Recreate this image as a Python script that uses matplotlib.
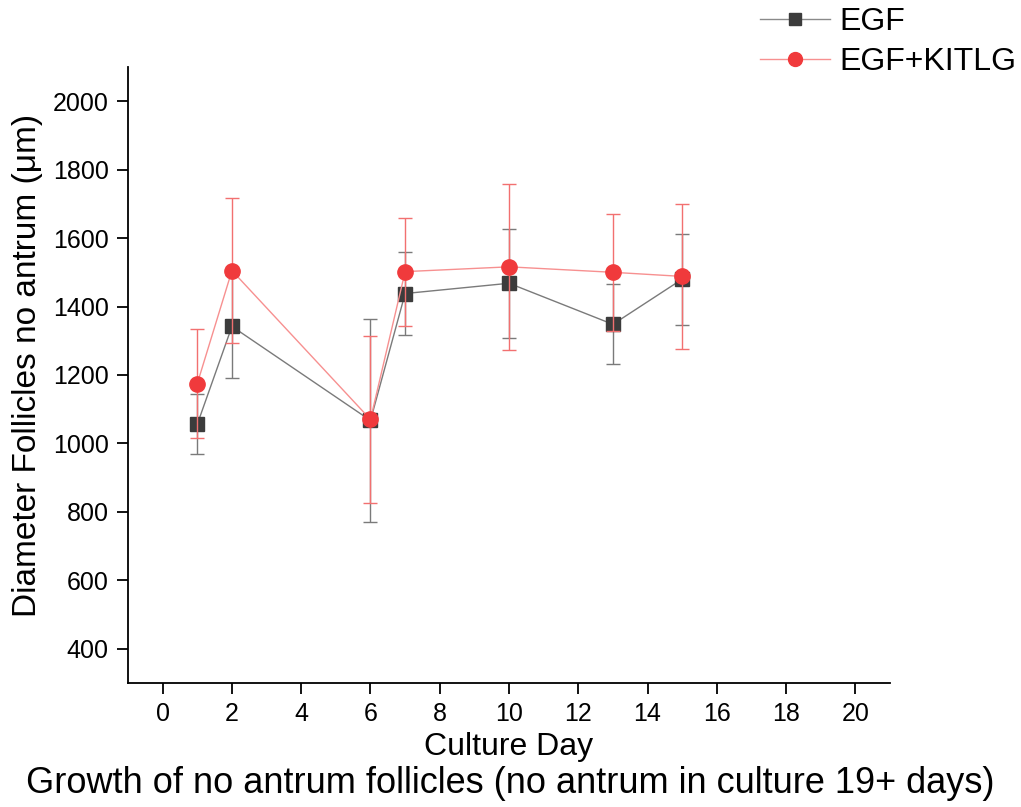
import matplotlib
matplotlib.use('Agg')
import matplotlib.pyplot as plt

plt.rcParams['font.family'] = ['Liberation Sans', 'DejaVu Sans']

# culture days
days = [1, 2, 6, 7, 10, 13, 15]

# EGF group: mean diameter and error
egf_mean = [1056, 1342, 1067, 1438, 1468, 1348, 1480]
egf_err = [88, 150, 297, 120, 159, 117, 133]

# EGF+KITLG group
kit_mean = [1175, 1505, 1070, 1502, 1516, 1500, 1488]
kit_err = [158, 211, 243, 158, 242, 171, 211]

x_ticks = [0, 2, 4, 6, 8, 10, 12, 14, 16, 18, 20]
y_ticks = [400, 600, 800, 1000, 1200, 1400, 1600, 1800, 2000]

W, H = 1021, 807
fig = plt.figure(figsize=(W / 100, H / 100), dpi=100)
ax = fig.add_axes([0.1254, 0.1537, 0.7463, 0.7633])

ax.errorbar(days, egf_mean, yerr=egf_err, fmt='none', ecolor='#7a7a7a',
            elinewidth=1, capsize=5, capthick=1, zorder=2)
ax.plot(days, egf_mean, '-', color='#7a7a7a', lw=1, zorder=3)
ax.plot(days, egf_mean, 's', color='#3c3c3c', ms=10, zorder=4)

ax.errorbar(days, kit_mean, yerr=kit_err, fmt='none', ecolor='#f27070',
            elinewidth=1, capsize=5, capthick=1, zorder=5)
ax.plot(days, kit_mean, '-', color='#f79090', lw=1, zorder=6)
ax.plot(days, kit_mean, 'o', color='#f03a3c', ms=11, zorder=7)

# legend handles
h1, = ax.plot([], [], '-s', color='#8a8a8a', mfc='#3c3c3c', mec='#3c3c3c', lw=1, ms=8)
h2, = ax.plot([], [], '-o', color='#f79090', mfc='#f03a3c', mec='#f03a3c', lw=1, ms=10)
fig.legend([h1, h2], ['EGF', 'EGF+KITLG'], loc='upper left',
           bbox_to_anchor=(760 / W, 1 - 7 / H), frameon=False, fontsize=23,
           borderpad=0, borderaxespad=0,
           handlelength=2.2, handletextpad=0.28, labelspacing=0.32)

ax.set_xlim(-1, 21)
ax.set_ylim(300, 2100)
ax.set_xticks(x_ticks)
ax.set_yticks(y_ticks)
ax.spines['top'].set_visible(False)
ax.spines['right'].set_visible(False)
for s in ['left', 'bottom']:
    ax.spines[s].set_linewidth(1.3)
ax.tick_params(direction='out', length=8, width=1.3, labelsize=18, pad=6)

ax.set_xlabel('Culture Day', fontsize=23, va='baseline')
ax.xaxis.set_label_coords(0.5, (H - 755 - 124) / 616)
ax.set_ylabel('Diameter Follicles no antrum (μm)', fontsize=24, va='baseline')
ax.yaxis.set_label_coords((36 - 128) / 762, 0.515)
fig.text(0.5, 14 / H, 'Growth of no antrum follicles (no antrum in culture 19+ days)',
         ha='center', va='baseline', fontsize=26)

fig.savefig('out.png', dpi=100)
